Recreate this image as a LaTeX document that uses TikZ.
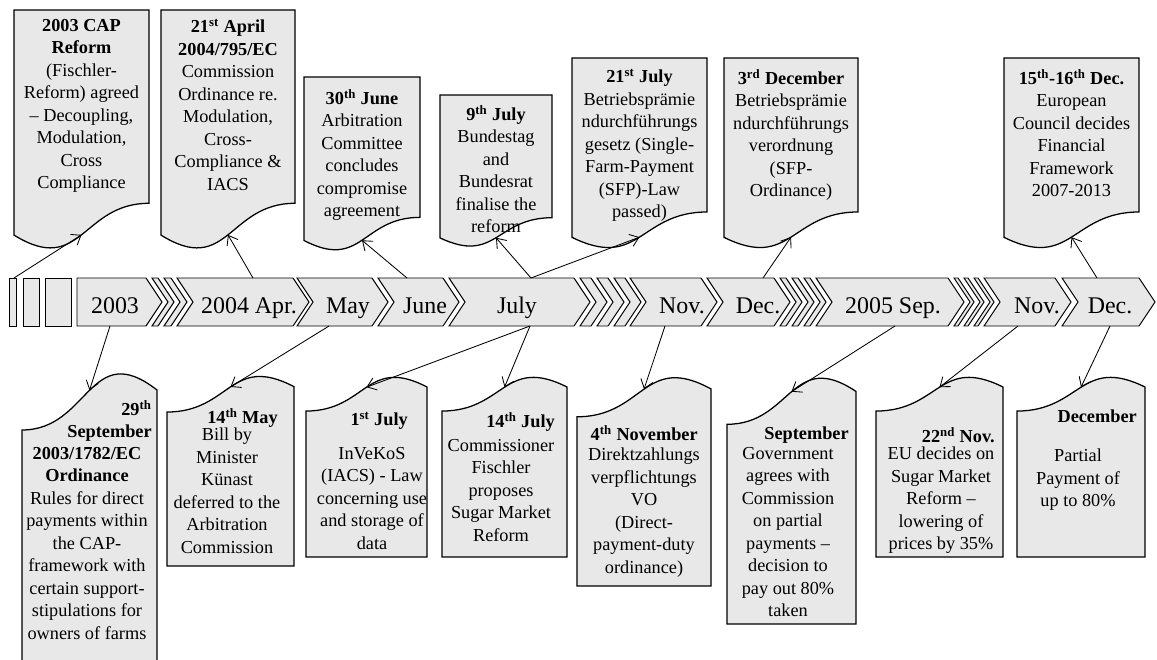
\documentclass[tikz,border=0pt]{standalone}
\usepackage{fontspec}
\setmainfont{Liberation Serif}
\usetikzlibrary{arrows.meta}
\definecolor{boxgray}{RGB}{232,232,232}

\tikzstyle{chevron} = [draw,line width=0.7pt,fill=boxgray]
\tikzstyle{callout} = [draw,line width=0.9pt,fill=boxgray]
\tikzstyle{month} = [font=\fontsize{17}{20}\selectfont,anchor=base,inner sep=0pt]
\tikzstyle{note} = [font=\fontsize{13}{16}\selectfont,align=center,anchor=north,inner sep=0pt]
\tikzstyle{head} = [font=\fontsize{13}{16}\selectfont\bfseries,align=right,anchor=north east,inner sep=0pt]
\tikzstyle{link} = [draw,line width=0.6pt,-{Straight Barb[length=6pt,width=9pt]}]

\begin{document}
\begin{tikzpicture}[x=0.025cm,y=-0.025cm]
\useasboundingbox (0,0) rectangle (1157,659);
% timeline
\foreach \l/\r in {9/16, 23/39, 45/71}{
  \draw[chevron] (\l,278) rectangle (\r,326);
}
\draw[chevron] (77,278) -- (146,278) -- (162,302) -- (146,326) -- (77,326) -- cycle;
\foreach \l/\r in {152/174, 164/187, 177/309, 297/388, 378/459, 449/590,
                   580/607, 597/624, 614/641, 630/717, 707/790,
                   780/802, 792/814, 804/826, 816/964,
                   954/974, 964/984, 974/994, 984/1071, 1062/1155}{
  \draw[chevron] (\l,278) -- (\r-16,278) -- (\r,302) -- (\r-16,326) -- (\l,326) -- (\l+16,302) -- cycle;
}
\foreach \name/\x/\txt in {y03/115/2003, apr/249/2004 Apr., may/348/May, jun/425/June,
                           jul/517/July, nov/682/Nov., dec/758/Dec., sep/893/2005 Sep.,
                           novb/1037/Nov., decb/1110/Dec.}{
  \node[month] (m-\name) at (\x,313) {\txt};
}
% callouts above
\foreach \name/\l/\r/\t/\h in {cap/14/149/10/241, apr/161/295/10/241, jun/304/420/77/175,
                               julA/440/552/95/153, julB/572/707/58/192,
                               decA/724/858/58/192, decB/1004/1139/58/192}{
  \draw[callout] (\l,\t) -- (\r,\t) -- (\r,\t+0.802*\h)
    .. controls ({(\l+\r)/2},\t+0.802*\h) and ({(\l+\r)/2},\t+1.107*\h) .. (\l,\t+0.934*\h) -- cycle;
  \coordinate (\name-tip) at ({(\l+\r)/2},\t+0.933*\h);
}
% callouts below
\foreach \name/\l/\r/\b/\h in {sepA/22/157/673/303, may/167/294/566/192, julC/306/427/557/182,
                               julD/442/567/557/182, nov/577/711/586/211, sepB/727/856/624/249,
                               novB/876/1003/557/182, decC/1017/1145/557/182}{
  \draw[callout] (\l,\b) -- (\r,\b) -- (\r,\b-0.934*\h)
    .. controls ({(\l+\r)/2},\b-1.107*\h) and ({(\l+\r)/2},\b-0.802*\h) .. (\l,\b-0.802*\h) -- cycle;
  \coordinate (\name-tip) at ({(\l+\r)/2},\b-0.933*\h);
}

\node[note] (t-cap) at (81.5,19) {\textbf{2003 CAP}\\\textbf{Reform}\\(Fischler-\\Reform) agreed\\– Decoupling,\\Modulation,\\Cross\\Compliance};
\node[note] (t-apr) at (228,19) {\textbf{21\textsuperscript{st} April}\\\textbf{2004/795/EC}\\Commission\\Ordinance re.\\Modulation,\\Cross-\\Compliance \&\\IACS};
\node[note] (t-jun) at (362,89) {\textbf{30\textsuperscript{th} June}\\Arbitration\\Committee\\concludes\\compromise\\agreement};
\node[note] (t-julA) at (496,105) {\textbf{9\textsuperscript{th} July}\\Bundestag\\and\\Bundesrat\\finalise the\\reform};
\node[note] (t-julB) at (639.5,69) {\textbf{21\textsuperscript{st} July}\\Betriebsprämie\\ndurchführungs\\gesetz (Single-\\Farm-Payment\\(SFP)-Law\\passed)};
\node[note] (t-decA) at (791,69) {\textbf{3\textsuperscript{rd} December}\\Betriebsprämie\\ndurchführungs\\verordnung\\(SFP-\\Ordinance)};
\node[note] (t-decB) at (1071.5,69) {\textbf{15\textsuperscript{th}-16\textsuperscript{th} Dec.}\\European\\Council decides\\Financial\\Framework\\2007-2013};

\node[head] (h-sepA) at (152,400) {29\textsuperscript{th}\\September};
\node[note] (t-sepA) at (87,447) {\textbf{2003/1782/EC}\\\textbf{Ordinance}\\Rules for direct\\payments within\\the CAP-\\framework  with\\certain support-\\stipulations  for\\owners of farms};
\node[head] (h-may) at (278,408) {14\textsuperscript{th} May};
\node[note] (t-may) at (227,428) {Bill by\\Minister\\Künast\\deferred to the\\Arbitration\\Commission};
\node[head] (h-julC) at (408,412) {1\textsuperscript{st} July};
\node[note] (t-julC) at (372,447) {InVeKoS\\(IACS) - Law\\concerning use\\and storage of\\data};
\node[head] (h-julD) at (555,412) {14\textsuperscript{th} July};
\node[note] (t-julD) at (501,439) {Commissioner\\Fischler\\proposes\\Sugar Market\\Reform};
\node[head] (h-nov) at (698,425) {4\textsuperscript{th} November};
\node[note] (t-nov) at (644,448) {Direktzahlungs\\verpflichtungs\\VO\\(Direct-\\payment-duty\\ordinance)};
\node[head] (h-sepB) at (849,427) {September};
\node[note] (t-sepB) at (788,447) {Government\\agrees with\\Commission\\on partial\\payments –\\decision to\\pay out 80\%\\taken};
\node[head] (h-novB) at (995,427) {22\textsuperscript{nd} Nov.};
\node[note] (t-novB) at (941,447) {EU decides on\\Sugar Market\\Reform –\\lowering of\\prices by 35\%};
\node[head] (h-decC) at (1137,410) {December};
\node[note] (t-decC) at (1078,449) {Partial\\Payment of\\up to 80\%};

% connectors
\foreach \name/\x/\y in {cap/14/278, apr/253/278, jun/407/278, jul/531/278, dec/763/278,
                         ecc/1097/278, sep/110/326, may/329/326, julb/530/326, nov/665/326,
                         sepb/895/326, novb/1018/326, decb/1110/326}{
  \coordinate (bar-\name) at (\x,\y);
}
\foreach \source/\dest in {cap/cap, apr/apr, jun/jun, jul/julA, jul/julB, dec/decA, ecc/decB,
                           sep/sepA, may/may, julb/julC, julb/julD, nov/nov, sepb/sepB,
                           novb/novB, decb/decC}{
  \path[link] (bar-\source) -- (\dest-tip);
}
\end{tikzpicture}
\end{document}
